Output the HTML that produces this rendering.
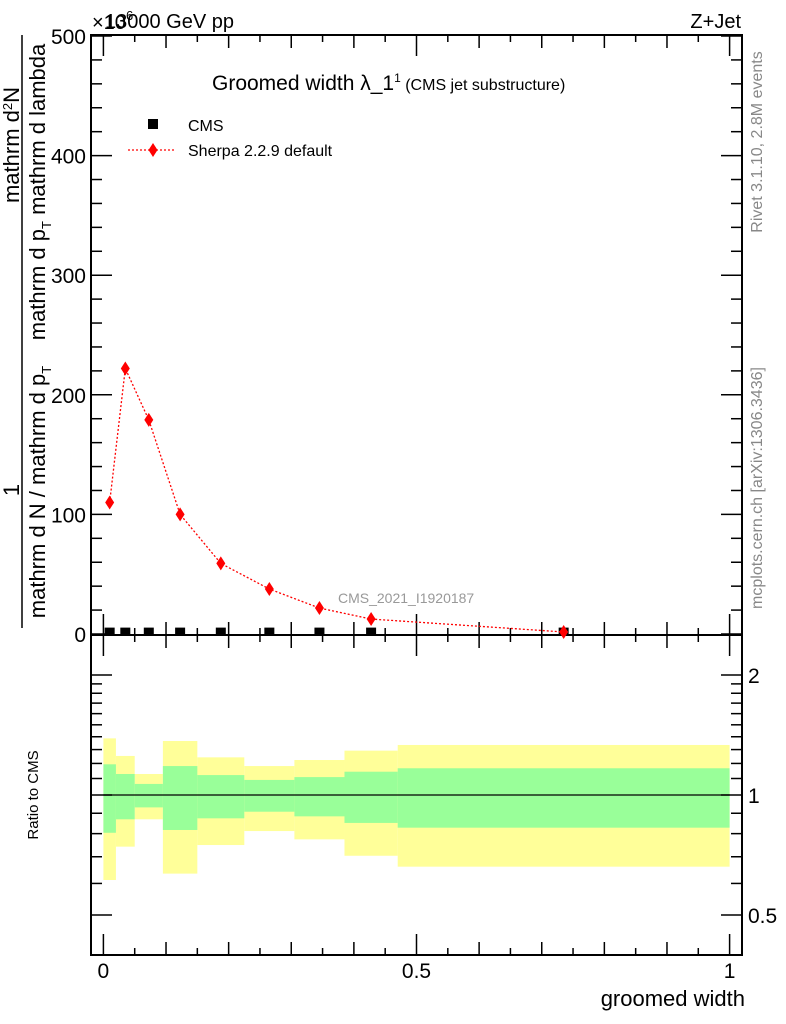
<!DOCTYPE html>
<html><head><meta charset="utf-8"><style>
html,body{margin:0;padding:0;background:#fff;width:786px;height:1024px;overflow:hidden}
svg{display:block;font-family:"Liberation Sans",sans-serif}
</style></head><body>
<svg id="c" width="786" height="1024" viewBox="0 0 786 1024">
<text x="92" y="29" font-size="20">×10<tspan dy="-9" font-size="13">6</tspan></text>
<text x="105" y="28" font-size="20">13000 GeV pp</text>
<text x="741" y="28" font-size="20" text-anchor="end">Z+Jet</text>
<text x="212" y="90" font-size="21">Groomed width λ_1<tspan dy="-8" font-size="12">1</tspan><tspan dy="8" font-size="16"> (CMS jet substructure)</tspan></text>
<text x="338" y="603" font-size="14" fill="#999">CMS_2021_I1920187</text>
<text transform="translate(762,142) rotate(-90)" font-size="16" fill="#888" text-anchor="middle">Rivet 3.1.10,  2.8M events</text>
<text transform="translate(762,488) rotate(-90)" font-size="16" fill="#888" text-anchor="middle">mcplots.cern.ch [arXiv:1306.3436]</text>
<g>
<line x1="22" y1="35" x2="22" y2="628" stroke="#000" stroke-width="1.5"/>
<text transform="translate(19,145) rotate(-90)" font-size="22" text-anchor="middle">mathrm d<tspan dy="-7" font-size="13">2</tspan><tspan dy="7">N</tspan></text>
<text transform="translate(45,192) rotate(-90)" font-size="22" text-anchor="middle">mathrm d p<tspan dy="6" font-size="13">T</tspan><tspan dy="-6"> mathrm d lambda</tspan></text>
<text transform="translate(19,490) rotate(-90)" font-size="22" text-anchor="middle">1</text>
<text transform="translate(45,492) rotate(-90)" font-size="22" text-anchor="middle">mathrm d N / mathrm d p<tspan dy="6" font-size="13">T</tspan></text>
</g>
<text transform="translate(38,795) rotate(-90)" font-size="15" text-anchor="middle">Ratio to CMS</text>
<text x="745" y="1006" font-size="22" text-anchor="end">groomed width</text>
</svg>
<script>
const edges=[0,0.02,0.05,0.095,0.15,0.225,0.305,0.385,0.47,1.0];
const sherpaX=[0.01,0.035,0.0725,0.1225,0.1875,0.265,0.345,0.4275,0.735];
const sherpaY=[110,222,179,100,59,37.6,21.7,12.5,1.7];
const cmsY=[2,2,2,2,2,2,2,2,2];
const yellowHi=[1.387,1.253,1.129,1.366,1.243,1.182,1.224,1.292,1.335];
const yellowLo=[0.612,0.742,0.869,0.635,0.749,0.812,0.774,0.704,0.661];
const greenHi=[1.194,1.129,1.066,1.182,1.122,1.091,1.109,1.144,1.167];
const greenLo=[0.804,0.869,0.931,0.817,0.874,0.908,0.884,0.851,0.828];
const mainTicks=[0,100,200,300,400,500];
const ratioTicks=[0.5,1,2];
const xTicks=[0,0.5,1];
const xTickLabels=["0","0.5","1"];

const NS="http://www.w3.org/2000/svg";
const svg=document.getElementById('c');
const L=91,R=742,T=35,M=635,B=955;
const X=v=>103.4+626.2*v;
const Y=v=>634-v*1.196;
const RY=r=>795-120*Math.log2(r);
function mk(tag,a,parent){const e=document.createElementNS(NS,tag);for(const k in a)e.setAttribute(k,a[k]);(parent||svg).appendChild(e);return e;}

const bands=mk('g',{});


for(let i=0;i<edges.length-1;i++){
  const y=mk('rect',{x:X(edges[i]),y:RY(yellowHi[i]),width:X(edges[i+1])-X(edges[i]),height:RY(yellowLo[i])-RY(yellowHi[i]),fill:'#ffff99'},bands);
  
  
}
for(let i=0;i<edges.length-1;i++){
  const g=mk('rect',{x:X(edges[i]),y:RY(greenHi[i]),width:X(edges[i+1])-X(edges[i]),height:RY(greenLo[i])-RY(greenHi[i]),fill:'#99ff99'},bands);
  
  
}
const one=mk('line',{x1:X(0),x2:X(1),y1:RY(1),y2:RY(1),stroke:'#000','stroke-width':1.2});



const f1=mk('rect',{x:L,y:T,width:R-L,height:M-T,fill:'none',stroke:'#000','stroke-width':2});


const f2=mk('rect',{x:L,y:M,width:R-L,height:B-M,fill:'none',stroke:'#000','stroke-width':2});



const tk=mk('g',{stroke:'#000','stroke-width':1.5});


for(let v=0;v<=500;v+=20){
  const len=v%100===0?21:11, y=Y(v);
  mk('line',{x1:L,x2:L+len,y1:y,y2:y},tk);
  mk('line',{x1:R,x2:R-len,y1:y,y2:y},tk);
}
for(let k=0;k<=20;k++){
  const v=k*0.05, x=X(v);
  const len=k%10===0?21:(k%2===0?13:7);
  [[T,1],[M,-1],[M,1],[B,-1]].forEach(([y0,d])=>mk('line',{x1:x,x2:x,y1:y0,y2:y0+d*len},tk));
}
const rmin=[0.5,0.6,0.7,0.8,0.9,1,1.1,1.2,1.3,1.4,1.5,1.6,1.7,1.8,1.9,2];
rmin.forEach(r=>{
  const len=(r===0.5||r===1||r===2)?21:11, y=RY(r);
  mk('line',{x1:L,x2:L+len,y1:y,y2:y},tk);
  mk('line',{x1:R,x2:R-len,y1:y,y2:y},tk);
});
mainTicks.forEach(v=>{
  const t=mk('text',{x:86,y:Y(v)+8,'font-size':21,'text-anchor':'end'});
  t.textContent=v;
  
  
});
ratioTicks.forEach(r=>{
  const t=mk('text',{x:748,y:RY(r)+8,'font-size':21});
  t.textContent=r;
  
  
});
xTicks.forEach((v,i)=>{
  const t=mk('text',{x:X(v),y:978,'font-size':21,'text-anchor':'middle'});
  t.textContent=xTickLabels[i];
  
  
});

for(let i=0;i<cmsY.length;i++){
  const cx=(X(edges[i])+X(edges[i+1]))/2;
  const s=mk('rect',{x:cx-5,y:Y(cmsY[i])-4,width:10,height:7,fill:'#000'});
  
  
}
const pl=mk('polyline',{points:sherpaX.map((x,i)=>X(x)+','+Y(sherpaY[i])).join(' '),fill:'none',stroke:'#f00','stroke-width':1.3,'stroke-dasharray':'2,2'});


sherpaX.forEach((x,i)=>{
  const cx=X(x),cy=Y(sherpaY[i]);
  const d=mk('polygon',{points:`${cx},${cy-7} ${cx+4.5},${cy} ${cx},${cy+7} ${cx-4.5},${cy}`,fill:'#f00'});
  
  
});

const lg=mk('g',{});


mk('rect',{x:148,y:119,width:10,height:10,fill:'#000'},lg);
const t1=mk('text',{x:188,y:131,'font-size':16},lg);t1.textContent='CMS';


mk('line',{x1:128,x2:176,y1:150,y2:150,stroke:'#f00','stroke-width':1.3,'stroke-dasharray':'2,2'},lg);
mk('polygon',{points:'153,143 157.5,150 153,157 148.5,150',fill:'#f00'},lg);
const t2=mk('text',{x:188,y:156,'font-size':16},lg);t2.textContent='Sherpa 2.2.9 default';


</script>
</body></html>
